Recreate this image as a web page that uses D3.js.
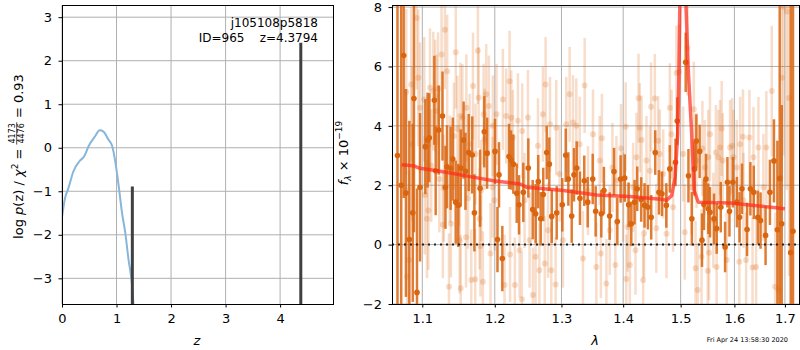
<!DOCTYPE html>
<html>
<head>
<meta charset="utf-8">
<script src="https://cdn.jsdelivr.net/npm/d3@7"></script>
<style>
  body { margin: 0; background: #fff; }
  svg { font-family: "DejaVu Sans", sans-serif; }
</style>
</head>
<body>
<div id="chart-container"></div>
<script>
// ---- left panel: log p(z)
const pzZ   = [0.00, 0.05, 0.12, 0.21, 0.32, 0.41, 0.49, 0.61, 0.69, 0.76, 0.85, 0.92, 0.98, 1.04, 1.10, 1.16, 1.22, 1.28, 1.31, 1.33];
const pzLog = [-1.60, -1.19, -0.92, -0.54, -0.31, -0.19, 0.04, 0.27, 0.40, 0.37, 0.19, 0.04, -0.34, -0.88, -1.49, -1.95, -2.57, -3.10, -3.58, -3.90];
const peakZ = [1.29, 4.3794];
const peakTop = [-0.89, 2.41];
const zTicks = [0, 1, 2, 3, 4];
const pzTicks = [-3, -2, -1, 0, 1, 2, 3];
const fieldName = "j105108p5818";
const objLabel = "ID=965    z=4.3794";

// ---- right panel: spectrum
const lamTicks = [1.1, 1.2, 1.3, 1.4, 1.5, 1.6, 1.7];
const fluxTicks = [-2, 0, 2, 4, 6, 8];

const modelWave = [1.073, 1.088, 1.097, 1.124, 1.165, 1.198, 1.237, 1.247, 1.303, 1.356, 1.411, 1.469, 1.4745, 1.484, 1.490,
  1.4947, 1.497, 1.4985, 1.5035, 1.5097, 1.5136, 1.520, 1.5245, 1.532, 1.592, 1.700];
const modelFlux = [2.69, 2.66, 2.57, 2.47, 2.29, 2.15, 2.04, 1.93, 1.82, 1.67, 1.62, 1.52, 1.49, 1.65, 2.27,
  3.72, 5.95, 8.0, 20.0, 8.0, 5.95, 3.72, 1.82, 1.43, 1.40, 1.21];

const darkWave = [1.0677, 1.0725, 1.0757, 1.0786, 1.0830, 1.0875, 1.0890, 1.0930, 1.0970, 1.1040, 1.1070, 1.1093, 1.1160, 1.1178,
  1.1219, 1.1270, 1.1310, 1.1331, 1.1380, 1.1410, 1.1450, 1.1485, 1.1520, 1.1559, 1.1585, 1.1630, 1.1680, 1.1710, 1.1790, 1.1850,
  1.1890, 1.2003, 1.2039, 1.2061, 1.2109, 1.2207, 1.2236, 1.2270, 1.2320, 1.2354, 1.2418, 1.2493, 1.2559, 1.2604, 1.2643, 1.2680,
  1.2719, 1.2772, 1.2812, 1.2849, 1.2926, 1.3013, 1.3067, 1.3108, 1.3161, 1.3197, 1.3240, 1.3292, 1.3361, 1.3416, 1.3497, 1.3545,
  1.3637, 1.3680, 1.3775, 1.3847, 1.3902, 1.3957, 1.4026, 1.4092, 1.4137, 1.4193, 1.4238, 1.4306, 1.4364, 1.4421, 1.4479, 1.4549,
  1.4614, 1.4667, 1.4744, 1.4806, 1.4907, 1.4938, 1.5091, 1.5141, 1.5203, 1.5253, 1.5285, 1.5346, 1.5389, 1.5426, 1.5463, 1.5506,
  1.5538, 1.5613, 1.5663, 1.5740, 1.5822, 1.5866, 1.5905, 1.5971, 1.6048, 1.6099, 1.6146, 1.6245, 1.6310, 1.6376, 1.6456, 1.6510,
  1.6610, 1.6697, 1.6778, 1.6847, 1.6894, 1.6935, 1.7119, 1.7166];
const darkFlux = [3.00, 2.00, 6.37, 1.74, 0.17, 1.07, 4.92, -1.61, 1.93, 3.30, 3.52, 3.60, 4.86, 2.49,
  3.86, 4.33, 1.93, 2.62, 2.57, 2.88, 1.43, 1.32, 2.58, 3.52, 2.47, 3.10, 3.02, 1.07, 1.90, 3.80,
  3.08, 3.14, 0.17, 2.35, -0.47, 2.97, 2.85, 2.71, 1.73, 1.34, 1.76, 2.58, 1.18, 1.04, 2.12, 0.87,
  1.69, 3.10, 2.71, 0.95, 1.07, 1.34, 3.01, 2.21, 0.96, 2.35, 2.58, 1.56, 2.15, 1.43, 2.21, 1.12,
  1.04, 1.82, 0.96, 2.46, 0.78, 2.21, 2.24, 1.34, 0.70, 1.43, 1.88, 1.52, 1.32, 1.26, 0.92, 3.10,
  1.76, 1.71, 1.32, 2.55, 2.77, 4.16, 6.14, 2.32, 0.87, 2.55, 3.49, 3.14, 0.15, 1.34, 2.21, 1.21,
  1.09, 0.87, 0.54, 1.26, -0.08, 2.10, 1.12, 2.10, 1.43, 0.92, 1.88, 0.51, 1.88, 1.76, 0.92, 0.81,
  0.31, 1.76, 2.82, 0.50, 2.23, 0.70, -0.27, 0.45];
const darkErr = [15, 12, 4.8, 3.5, 4.0, 3.0, 4.5, 3.5, 2.5, 1.6, 1.6, 1.5, 1.5, 1.5,
  1.5, 1.5, 1.4, 1.4, 1.4, 1.4, 1.4, 1.4, 1.3, 1.3, 1.3, 1.3, 1.3, 1.3, 1.3, 1.2,
  1.2, 1.1, 1.1, 1.1, 1.1, 1.1, 1.0, 1.0, 1.0, 1.0, 1.0, 1.0, 1.0, 1.0, 0.9, 0.9,
  0.9, 0.9, 0.9, 0.9, 0.9, 0.9, 0.9, 0.9, 0.9, 0.9, 0.9, 0.9, 0.85, 0.85, 0.85, 0.85,
  0.8, 0.8, 0.8, 0.8, 0.8, 0.8, 0.8, 0.75, 0.75, 0.75, 0.75, 0.75, 0.75, 0.75, 0.75, 0.75,
  0.75, 0.75, 0.75, 0.8, 0.8, 0.8, 1.0, 0.9, 0.9, 0.9, 0.9, 0.9, 0.9, 0.85, 0.85, 0.85,
  0.85, 0.85, 0.85, 0.85, 0.85, 0.85, 0.85, 0.85, 0.85, 0.85, 0.85, 0.9, 0.9, 0.9, 0.9, 0.95,
  1.0, 1.1, 1.4, 3.0, 6.0, 4.0, 12, 12];

const lightWave = [1.0790, 1.0800, 1.0825, 1.0855, 1.0866, 1.0925, 1.0947, 1.0969, 1.1026, 1.1032, 1.1062, 1.1080, 1.1102, 1.1119,
  1.1146, 1.1172, 1.1190, 1.1210, 1.1228, 1.1257, 1.1275, 1.1288, 1.1302, 1.1333, 1.1358, 1.1370, 1.1385, 1.1425, 1.1451, 1.1474,
  1.1495, 1.1505, 1.1515, 1.1519, 1.1542, 1.1593, 1.1597, 1.1622, 1.1643, 1.1666, 1.1690, 1.1722, 1.1726, 1.1759, 1.1770, 1.1782,
  1.1795, 1.1806, 1.1830, 1.1840, 1.1853, 1.1877, 1.1915, 1.1939, 1.1968, 1.1972, 1.1996, 1.2025, 1.2117, 1.2141, 1.2165, 1.2215,
  1.2222, 1.2240, 1.2264, 1.2293, 1.2338, 1.2363, 1.2396, 1.2402, 1.2437, 1.2487, 1.2512, 1.2562, 1.2602, 1.2638, 1.2660, 1.2714,
  1.2742, 1.2755, 1.2791, 1.2822, 1.2842, 1.2909, 1.2919, 1.2971, 1.3023, 1.3076, 1.3128, 1.3181, 1.3234, 1.3287, 1.3340, 1.3367,
  1.3421, 1.3502, 1.3556, 1.3611, 1.3630, 1.3647, 1.3721, 1.3776, 1.3820, 1.3869, 1.3887, 1.3963, 1.3999, 1.4042, 1.4052, 1.4075,
  1.4112, 1.4168, 1.4208, 1.4225, 1.4260, 1.4282, 1.4313, 1.4340, 1.4355, 1.4397, 1.4455, 1.4477, 1.4542, 1.4568, 1.4600, 1.4629,
  1.4688, 1.4747, 1.4806, 1.4836, 1.4865, 1.4925, 1.4973, 1.5045, 1.5075, 1.5124, 1.5197, 1.5239, 1.5270, 1.5289, 1.5310, 1.5381,
  1.5397, 1.5443, 1.5496, 1.5505, 1.5520, 1.5537, 1.5600, 1.5648, 1.5662, 1.5694, 1.5726, 1.5757, 1.5777, 1.5853, 1.5917, 1.5956,
  1.5981, 1.6045, 1.6095, 1.6110, 1.6165, 1.6174, 1.6226, 1.6291, 1.6352, 1.6370, 1.6422, 1.6468, 1.6567, 1.6625, 1.6734, 1.6801,
  1.6869, 1.6937, 1.6971, 1.7039, 1.7085];
const lightFlux = [5.14, -1.08, -0.52, 5.39, 3.38, 7.63, 5.62, 4.61, 4.89, 1.67, 0.87, 1.15, 5.28, 2.66,
  5.17, 5.00, 4.50, 5.25, 2.21, 6.40, 0.67, 1.90, 7.24, 5.84, -1.42, 2.55, 0.70, 3.66, 6.48, 3.89,
  2.43, 0.15, 4.33, -1.47, 4.28, 0.25, 4.61, 1.56, 3.38, -1.19, 5.34, -1.17, 3.05, 6.53, 4.95, 0.87,
  -0.05, 1.82, -1.25, 4.39, 3.55, 5.06, 4.67, -0.30, 1.93, 4.00, 1.49, 4.39, 4.89, -1.36, 4.33, 5.50,
  -0.33, 4.27, 3.61, -1.36, 4.17, -0.19, -1.84, 3.83, 1.49, 4.28, 0.15, -1.70, -0.41, 3.33, -0.86, 4.39,
  -0.64, 5.39, 0.48, 4.05, -0.86, -1.34, 3.94, 2.38, 0.15, 4.05, 5.06, 4.11, 4.00, 3.38, -0.47, 5.36,
  1.82, 3.72, -0.75, 2.83, -0.30, 3.58, -1.31, 0.48, 2.60, -0.69, 2.16, 3.24, 1.60, 3.97, -1.16, 0.59,
  -0.69, 1.93, -0.19, 2.94, 4.93, 3.94, 3.52, -1.19, 0.38, 2.83, 2.49, 4.64, 4.92, 0.55, 3.50, 3.05,
  2.38, 0.37, 4.61, 3.72, 1.26, 5.78, 5.82, 3.05, 0.42, 6.62, 1.93, 4.56, -0.80, 2.83, -1.53, -0.41,
  3.24, 2.60, -0.88, 2.94, -0.27, 3.72, 0.82, 3.10, -0.75, 2.94, 3.27, 3.91, 2.83, -0.52, 3.27, 3.33,
  2.94, 2.60, -0.58, 3.38, 3.63, 1.49, -0.52, 3.61, -0.77, 2.94, -0.75, 3.27, 1.93, 3.27, 5.17, -1.42,
  -1.53, 5.62, 8.00, 7.85, 4.94];
const lightErr = [2.8, 3.0, 3.0, 2.6, 2.6, 2.4, 2.3, 2.2, 2.1, 2.0, 2.0, 2.0, 2.0, 1.9,
  2.0, 1.9, 1.9, 1.9, 1.8, 2.0, 1.8, 1.8, 2.0, 1.9, 1.8, 1.8, 1.8, 1.8, 1.9, 1.8,
  1.8, 1.8, 1.8, 1.8, 1.8, 1.7, 1.8, 1.7, 1.7, 1.7, 1.8, 1.7, 1.7, 1.8, 1.7, 1.7,
  1.7, 1.7, 1.7, 1.7, 1.7, 1.7, 1.7, 1.7, 1.7, 1.7, 1.7, 1.7, 1.7, 1.7, 1.6, 1.7,
  1.6, 1.6, 1.6, 1.6, 1.6, 1.6, 1.6, 1.6, 1.6, 1.6, 1.6, 1.6, 1.6, 1.6, 1.6, 1.6,
  1.6, 1.6, 1.6, 1.6, 1.6, 1.6, 1.6, 1.6, 1.6, 1.6, 1.6, 1.6, 1.6, 1.6, 1.6, 1.6,
  1.5, 1.5, 1.5, 1.5, 1.5, 1.5, 1.5, 1.5, 1.5, 1.5, 1.5, 1.5, 1.5, 1.5, 1.5, 1.5,
  1.5, 1.5, 1.5, 1.5, 1.5, 1.5, 1.5, 1.5, 1.5, 1.5, 1.5, 1.5, 1.5, 1.5, 1.5, 1.5,
  1.5, 1.5, 1.5, 1.5, 1.5, 1.6, 1.6, 1.6, 1.6, 1.6, 1.6, 1.6, 1.6, 1.6, 1.6, 1.6,
  1.6, 1.6, 1.6, 1.6, 1.6, 1.6, 1.6, 1.6, 1.6, 1.6, 1.6, 1.6, 1.6, 1.6, 1.6, 1.6,
  1.6, 1.6, 1.6, 1.6, 1.6, 1.6, 1.6, 1.6, 1.7, 1.7, 1.7, 1.7, 1.8, 1.9, 2.2, 2.5,
  2.8, 3.5, 5.0, 6.0, 6.0];

const timeStamp = "Fri Apr 24 13:58:30 2020";

const dark = darkWave.map((w, i) => ({ w, f: darkFlux[i], e: darkErr[i] }));
const light = lightWave.map((w, i) => ({ w, f: lightFlux[i], e: lightErr[i] }));
const model = modelWave.map((w, i) => ({ w, f: modelFlux[i] }));
const pz = pzZ.map((z, i) => ({ z, v: pzLog[i] }));

const orange = "#d9650f";
const gridColor = "#b0b0b0";

const svg = d3.select("#chart-container")
  .append("svg")
  .attr("width", 800)
  .attr("height", 350);

const pzBox = { left: 62, right: 333, top: 5, bottom: 304 };
const spBox = { left: 392, right: 799, top: 5, bottom: 304 };

const defs = svg.append("defs");
[["clip-pz", pzBox], ["clip-sp", spBox]].forEach(([id, b]) => {
  defs.append("clipPath").attr("id", id)
    .append("rect")
    .attr("x", b.left).attr("y", b.top)
    .attr("width", b.right - b.left).attr("height", b.bottom - b.top);
});

const zX = d3.scaleLinear().domain([0, 4.97]).range([pzBox.left, pzBox.right]);
const pzY = d3.scaleLinear().domain([-3.59, 3.28]).range([pzBox.bottom, pzBox.top]);
const lamX = d3.scaleLog().domain([1.0607, 1.729]).range([spBox.left, spBox.right]);
const fY = d3.scaleLinear().domain([-2, 8.07]).range([spBox.bottom, spBox.top]);

function drawGrid(box, x, y, xTicks, yTicks) {
  const g = svg.append("g");
  g.selectAll(".gx").data(xTicks).enter().append("line")
    .attr("x1", d => x(d)).attr("x2", d => x(d))
    .attr("y1", box.top).attr("y2", box.bottom)
    .attr("stroke", gridColor).attr("stroke-width", 1);
  g.selectAll(".gy").data(yTicks).enter().append("line")
    .attr("x1", box.left).attr("x2", box.right)
    .attr("y1", d => y(d)).attr("y2", d => y(d))
    .attr("stroke", gridColor).attr("stroke-width", 1);
}

function drawAxes(box, x, y, xTicks, yTicks, xFmt) {
  const ax = svg.append("g")
    .attr("transform", `translate(0,${box.bottom})`)
    .call(d3.axisBottom(x).tickValues(xTicks).tickFormat(xFmt).tickSize(3.5).tickPadding(6.5))
    .attr("font-size", 13).attr("font-family", null);
  ax.select(".domain").remove();

  const ay = svg.append("g")
    .attr("transform", `translate(${box.left},0)`)
    .call(d3.axisLeft(y).tickValues(yTicks).tickFormat(d3.format("d")).tickSize(3.5).tickPadding(6.5))
    .attr("font-size", 13).attr("font-family", null);
  ay.select(".domain").remove();

  svg.append("rect")
    .attr("x", box.left).attr("y", box.top)
    .attr("width", box.right - box.left).attr("height", box.bottom - box.top)
    .attr("fill", "none").attr("stroke", "#000").attr("stroke-width", 1)
    .attr("shape-rendering", "crispEdges");
}

// ---------- left panel ----------
drawGrid(pzBox, zX, pzY, zTicks, pzTicks);

const pzG = svg.append("g").attr("clip-path", "url(#clip-pz)");
pzG.append("path")
  .datum(pz)
  .attr("d", d3.line().x(d => zX(d.z)).y(d => pzY(d.v)).curve(d3.curveMonotoneX))
  .attr("fill", "none")
  .attr("stroke", "#86b6da")
  .attr("stroke-width", 2);

pzG.selectAll(".peak")
  .data(peakZ)
  .enter().append("line")
  .attr("x1", d => zX(d)).attr("x2", d => zX(d))
  .attr("y1", pzBox.bottom)
  .attr("y2", (d, i) => pzY(peakTop[i]))
  .attr("stroke", "#404040")
  .attr("stroke-width", 3);

drawAxes(pzBox, zX, pzY, zTicks, pzTicks, d3.format("d"));

svg.append("text")
  .attr("x", 318).attr("y", 27)
  .attr("text-anchor", "end").attr("font-size", 12)
  .text(fieldName);
svg.append("text")
  .attr("x", 318).attr("y", 42)
  .attr("text-anchor", "end").attr("font-size", 12)
  .style("white-space", "pre")
  .text(objLabel);

svg.append("text")
  .attr("x", 197).attr("y", 345)
  .attr("text-anchor", "middle").attr("font-size", 13)
  .attr("font-style", "italic")
  .text("z");

// y label with a stacked fraction, pieces chained by measured length
const yl = svg.append("g").attr("transform", "translate(23,0) rotate(-90)");
const t1 = yl.append("text").attr("y", 0).attr("font-size", 13).style("white-space", "pre");
t1.append("tspan").text("log ");
t1.append("tspan").attr("font-style", "italic").text("p");
t1.append("tspan").text("(z) / ");
t1.append("tspan").attr("font-style", "italic").text("χ");
t1.append("tspan").attr("font-size", 9).attr("dy", -5).text("2");
t1.append("tspan").attr("dy", 5).text(" =");
const num = yl.append("text").attr("y", -8).attr("text-anchor", "middle").attr("font-size", 8).text("4173");
const den = yl.append("text").attr("y", 1).attr("text-anchor", "middle").attr("font-size", 8).text("4476");
const bar = yl.append("line").attr("y1", -6.3).attr("y2", -6.3).attr("stroke", "#000").attr("stroke-width", 0.7);
const t2 = yl.append("text").attr("y", 0).attr("font-size", 13).style("white-space", "pre").text(" = 0.93");

const w1 = t1.node().getComputedTextLength();
const wf = Math.max(num.node().getComputedTextLength(), den.node().getComputedTextLength()) + 2;
const w2 = t2.node().getComputedTextLength();
const total = w1 + 4 + wf + w2;
const start = -156.5 - total / 2;
t1.attr("x", start);
num.attr("x", start + w1 + 4 + wf / 2);
den.attr("x", start + w1 + 4 + wf / 2);
bar.attr("x1", start + w1 + 4).attr("x2", start + w1 + 4 + wf);
t2.attr("x", start + w1 + 4 + wf);

// ---------- right panel ----------
drawGrid(spBox, lamX, fY, lamTicks, fluxTicks);

const spG = svg.append("g").attr("clip-path", "url(#clip-sp)");

// light (unbinned) points
spG.selectAll(".lbar")
  .data(light)
  .enter().append("line")
  .attr("x1", d => lamX(d.w)).attr("x2", d => lamX(d.w))
  .attr("y1", d => fY(d.f - d.e)).attr("y2", d => fY(d.f + d.e))
  .attr("stroke", orange).attr("stroke-opacity", 0.22)
  .attr("stroke-width", 2.5);
spG.selectAll(".ldot")
  .data(light)
  .enter().append("circle")
  .attr("cx", d => lamX(d.w)).attr("cy", d => fY(d.f))
  .attr("r", 3)
  .attr("fill", orange).attr("fill-opacity", 0.22);

// dark (binned) points
spG.selectAll(".dbar")
  .data(dark)
  .enter().append("line")
  .attr("x1", d => lamX(d.w)).attr("x2", d => lamX(d.w))
  .attr("y1", d => fY(d.f - d.e)).attr("y2", d => fY(d.f + d.e))
  .attr("stroke", orange).attr("stroke-opacity", 0.85)
  .attr("stroke-width", 2.5);
spG.selectAll(".ddot")
  .data(dark)
  .enter().append("circle")
  .attr("cx", d => lamX(d.w)).attr("cy", d => fY(d.f))
  .attr("r", 2.8)
  .attr("fill", orange);

// model
spG.append("path")
  .datum(model)
  .attr("d", d3.line().x(d => lamX(d.w)).y(d => fY(d.f)))
  .attr("fill", "none")
  .attr("stroke", "#ff2a1a")
  .attr("stroke-opacity", 0.7)
  .attr("stroke-width", 3.5)
  .attr("stroke-linejoin", "round");

// zero line
spG.append("line")
  .attr("x1", spBox.left).attr("x2", spBox.right)
  .attr("y1", fY(0)).attr("y2", fY(0))
  .attr("stroke", "#222")
  .attr("stroke-width", 2)
  .attr("stroke-dasharray", "2,4");

drawAxes(spBox, lamX, fY, lamTicks, fluxTicks, d3.format(".1f"));

svg.append("text")
  .attr("x", 595).attr("y", 345)
  .attr("text-anchor", "middle").attr("font-size", 13)
  .attr("font-style", "italic")
  .text("λ");

const yr = svg.append("g").attr("transform", "translate(348,153) rotate(-90)");
const tr = yr.append("text").attr("x", 0).attr("y", 0).attr("text-anchor", "middle").attr("font-size", 13).style("white-space", "pre");
tr.append("tspan").attr("font-style", "italic").text("f");
tr.append("tspan").attr("font-style", "italic").attr("font-size", 9).attr("dy", 3).text("λ");
tr.append("tspan").attr("dy", -3).text(" × 10");
tr.append("tspan").attr("font-size", 9).attr("dy", -6).text("−19");

svg.append("text")
  .attr("x", 788).attr("y", 342)
  .attr("text-anchor", "end").attr("font-size", 6.5)
  .text(timeStamp);
</script>
</body>
</html>
